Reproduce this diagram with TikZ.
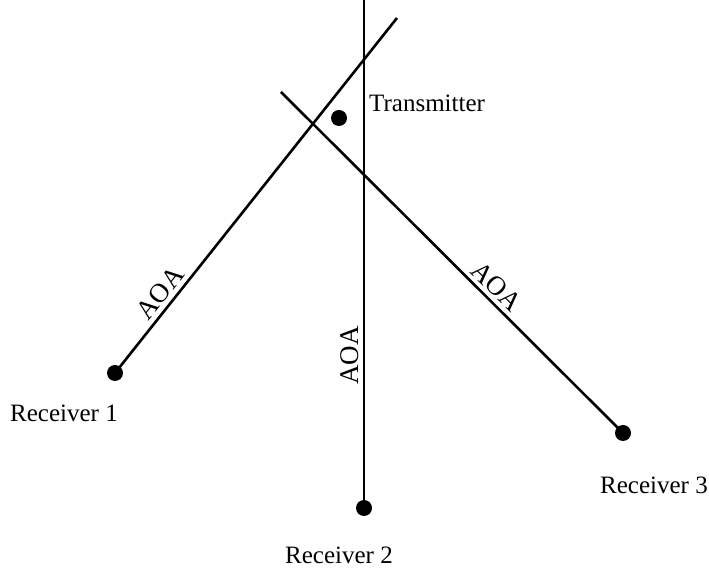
\documentclass[tikz,border=0pt]{standalone}
\usepackage{fontspec}
\setmainfont{Liberation Serif}
\usetikzlibrary{positioning}

\begin{document}
\begin{tikzpicture}[
  x=1pt, y=1pt,
  dot/.style={circle, fill=black, inner sep=0pt, minimum size=16pt},
  ray/.style={line width=2.6pt, draw=black},
  lbl/.style={font=\fontsize{25}{30}\selectfont, inner sep=0pt},
  aoa/.style={font=\fontsize{27}{32}\selectfont, sloped, above, inner sep=4pt}
]
  \useasboundingbox (0,0) rectangle (709,575);
  \node[dot] (tx) at (339,457) {};
  \node[dot] (rx1) at (115,202) {};
  \node[dot] (rx2) at (364,67) {};
  \node[dot] (rx3) at (623,142) {};
  \coordinate (end1) at (397,557);
  \coordinate (end2) at (364,575);
  \coordinate (end3) at (281,483);
  \node[lbl, anchor=west] (txlbl) at ([shift={(30,15)}]tx) {Transmitter};
  \node[lbl] (rx1lbl) at ([shift={(-51,-40)}]rx1) {Receiver 1};
  \node[lbl] (rx2lbl) at ([shift={(-25,-47)}]rx2) {Receiver 2};
  \node[lbl] (rx3lbl) at ([shift={(31,-52)}]rx3) {Receiver 3};
  \draw[ray] (rx1.center) -- node[aoa, pos=.20] {AOA} (end1);
  \draw[ray] (rx2.center) -- node[aoa, pos=.30] {AOA} (end2);
  \draw[ray] (end3) -- node[aoa, pos=.60] {AOA} (rx3.center);
\end{tikzpicture}
\end{document}
